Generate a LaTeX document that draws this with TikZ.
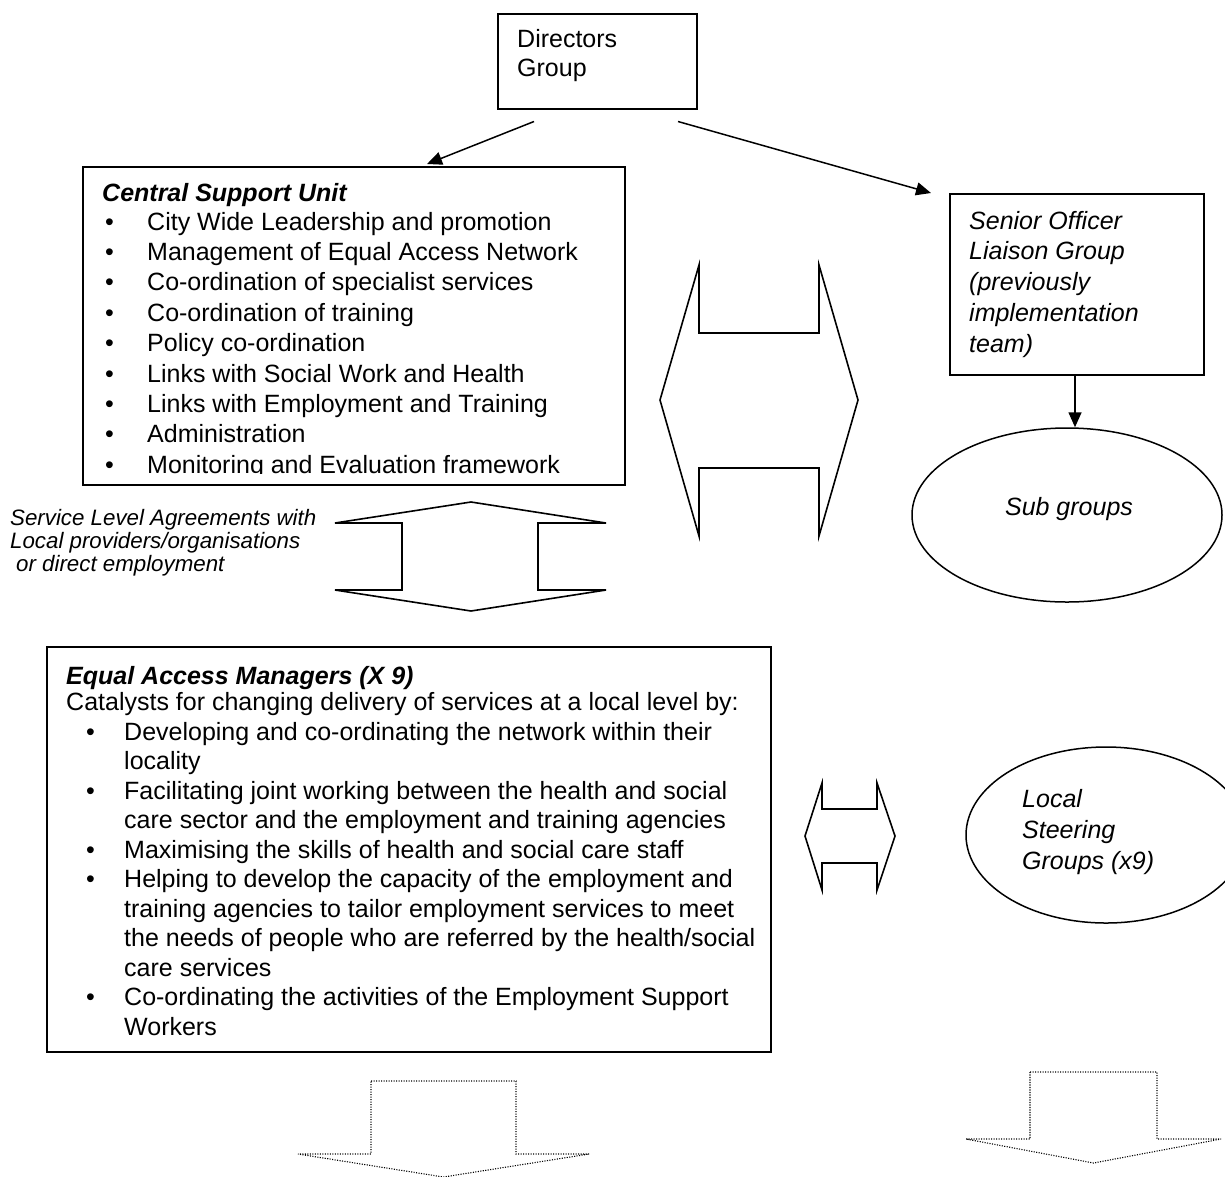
\documentclass[tikz,border=0pt]{standalone}
\usepackage{fontspec}
\setmainfont{Liberation Sans}
\usetikzlibrary{arrows.meta,calc,shapes.geometric}
\begin{document}
\begin{tikzpicture}[x=1pt,y=-1pt,
  box/.style={draw,line width=1.5pt,inner sep=0pt,anchor=north west},
  oval/.style={draw,line width=1.5pt,ellipse,inner sep=0pt},
  txt/.style={anchor=base west,inner sep=0pt,font=\fontsize{25}{30}\selectfont},
  itxt/.style={txt,font=\fontsize{25}{30}\selectfont\itshape},
  btxt/.style={txt,font=\fontsize{25}{30}\selectfont\bfseries\itshape},
  stxt/.style={anchor=base west,inner sep=0pt,font=\fontsize{22.3}{23}\selectfont\itshape},
  conn/.style={line width=1.5pt,-{Triangle[length=15pt,width=13pt]}},
  bigarrow/.style={line width=1.6pt,line join=miter},
  dotarrow/.style={line width=1.1pt,dash pattern=on 1.1pt off 1.4pt}]
\useasboundingbox (0,0) rectangle (1225,1176);

% ---- Directors Group
\node[box,minimum width=199pt,minimum height=95pt] (dir) at (497,13) {};
\node[txt] (dirA) at (517,47) {Directors};
\node[txt] (dirB) at (517,76) {Group};

% ---- Central Support Unit
\node[box,minimum width=542pt,minimum height=318pt] (csu) at (82,166) {};
\begin{scope}
\clip (82,166) rectangle (624,473);
\node[btxt] (csuT) at (102,201) {Central Support Unit};
\foreach \t [count=\i] in {{City Wide Leadership and promotion},
  {Management of Equal Access Network},
  {Co-ordination of specialist services},
  {Co-ordination of training},
  {Policy co-ordination},
  {Links with Social Work and Health},
  {Links with Employment and Training},
  {Administration},
  {Monitoring and Evaluation framework}}{
  \node[txt] (csub\i) at (105,230+30.4*\i-30.4) {•};
  \node[txt] (csut\i) at (147,230+30.4*\i-30.4) {\t};
}
\end{scope}

% ---- Senior Officer Liaison Group
\node[box,minimum width=254pt,minimum height=181pt] (sol) at (949,193) {};
\foreach \t [count=\i] in {{Senior Officer},{Liaison Group},{(previously},{implementation},{team)}}{
  \node[itxt] (solt\i) at (969,229+30.8*\i-30.8) {\t};
}

% ---- Sub groups
\node[oval,minimum width=310pt,minimum height=174pt] (sub) at (1067,515) {};
\node[itxt,anchor=base] (subt) at (1069,515) {Sub groups};

% ---- connectors
\coordinate (d1) at ($(dir.south west)+(37,12)$);
\coordinate (d2) at ($(dir.south west)+(181,12)$);
\draw[conn] (d1) -- ($(csu.north west)+(345,-2)$);
\draw[conn] (d2) -- ($(sol.north west)+(-18,0)$);
\draw[conn] (sol.south -| 1075,0) -- (sub.north -| 1075,0);

% ---- big left-right double arrow
\draw[bigarrow] (699,265) -- (699,333) -- (819,333) -- (819,265) -- (858,400)
  -- (819,536) -- (819,468) -- (699,468) -- (699,536) -- (660,400) -- cycle;

% ---- SLA up-down double arrow
\draw[bigarrow] (471,502) -- (606,523) -- (538,523) -- (538,590) -- (606,590)
  -- (471,611) -- (335,590) -- (402,590) -- (402,523) -- (335,523) -- cycle;

\node[stxt] (sla1) at (10,525) {Service Level Agreements with};
\node[stxt] (sla2) at (10,548) {Local providers/organisations};
\node[stxt] (sla3) at (16,571) {or direct employment};

% ---- Equal Access Managers
\node[box,minimum width=724pt,minimum height=405pt] (eam) at (46,646) {};
\node[btxt] (eamT) at (66,684) {Equal Access Managers (X 9)};
\node[txt] (eamC) at (66,710) {Catalysts for changing delivery of services at a local level by:};
\foreach \t/\b [count=\i] in {
  {Developing and co-ordinating the network within their}/1,
  {locality}/0,
  {Facilitating joint working between the health and social}/1,
  {care sector and the employment and training agencies}/0,
  {Maximising the skills of health and social care staff}/1,
  {Helping to develop the capacity of the employment and}/1,
  {training agencies to tailor employment services to meet}/0,
  {the needs of people who are referred by the health/social}/0,
  {care services}/0,
  {Co-ordinating the activities of the Employment Support}/1,
  {Workers}/0}{
  \node[txt] (eamt\i) at (124,740+29.5*\i-29.5) {\t};
  \ifnum\b=1 \node[txt] (eamb\i) at (86,740+29.5*\i-29.5) {•};\fi
}

% ---- small left-right double arrow
\draw[bigarrow] (822,783) -- (822,809) -- (877,809) -- (877,783) -- (895,836)
  -- (877,890) -- (877,863) -- (822,863) -- (822,890) -- (805,836) -- cycle;

% ---- Local Steering Groups
\node[oval,minimum width=280pt,minimum height=176pt] (lsg) at (1106,835) {};
\node[itxt] (lsg1) at (1022,807) {Local};
\node[itxt] (lsg2) at (1022,838) {Steering};
\node[itxt] (lsg3) at (1022,869) {Groups (x9)};

% ---- dotted down arrows
\draw[dotarrow] (371,1081) -- (516,1081) -- (516,1154) -- (589,1154) -- (443.5,1177)
  -- (298,1154) -- (371,1154) -- cycle;
\draw[dotarrow] (1030,1072) -- (1157,1072) -- (1157,1139) -- (1221,1139) -- (1093.5,1163)
  -- (966,1139) -- (1030,1139) -- cycle;
\end{tikzpicture}
\end{document}
